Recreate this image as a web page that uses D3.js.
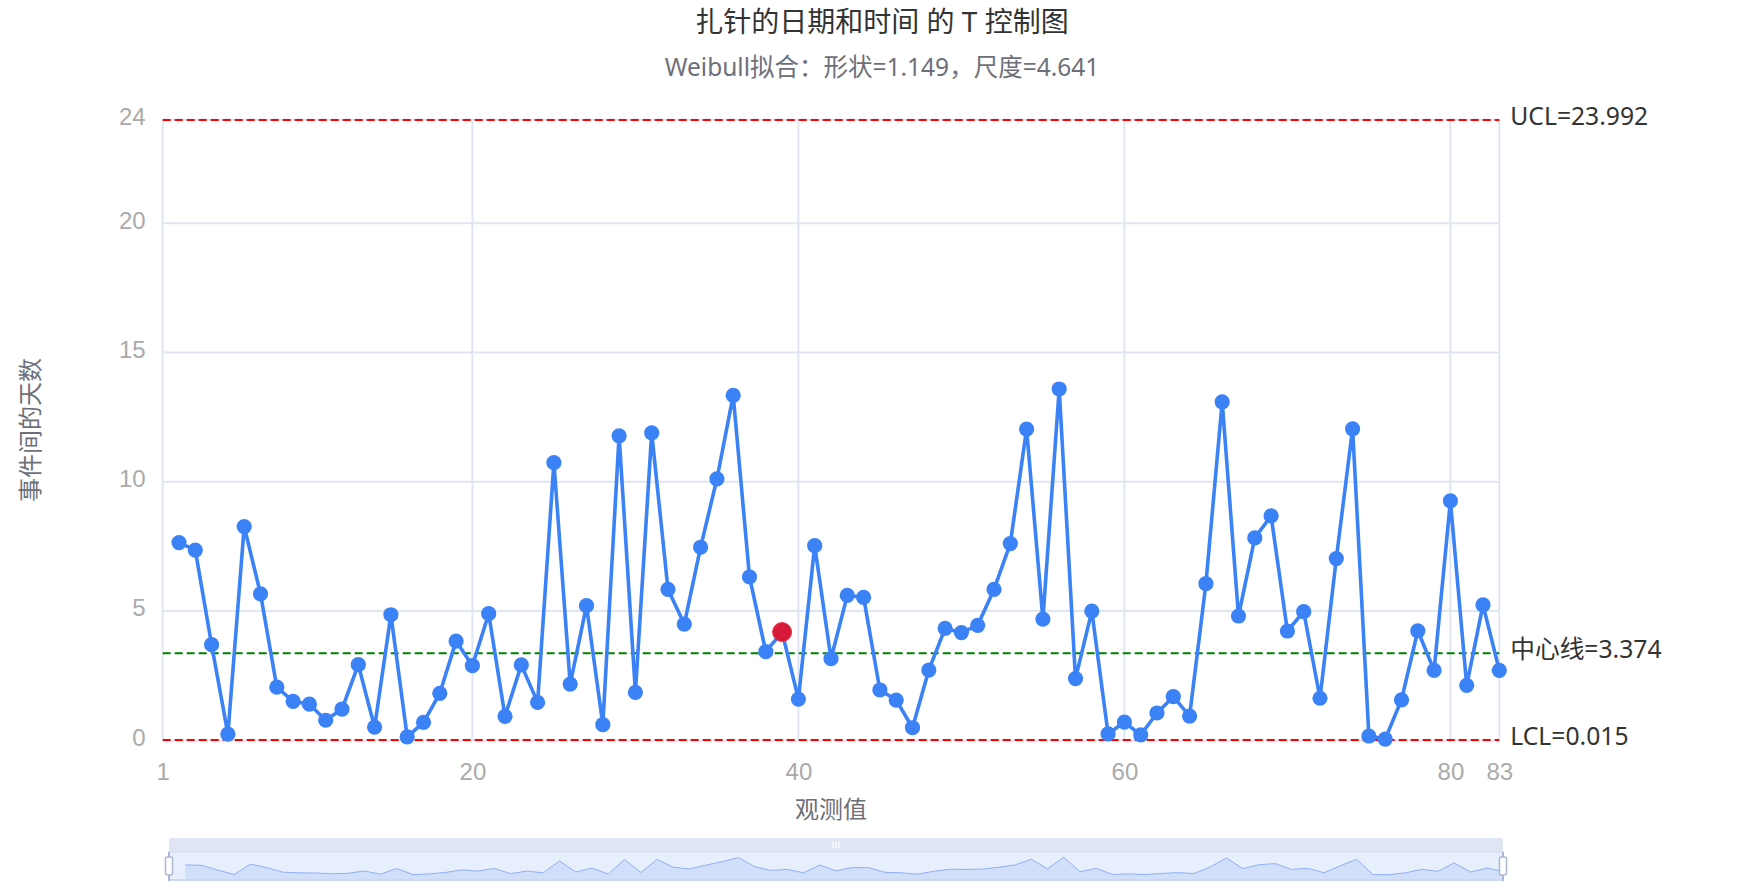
<!DOCTYPE html>
<html><head><meta charset="utf-8">
<script src="https://cdn.jsdelivr.net/npm/d3@7/dist/d3.min.js"></script>
<style>
html,body{margin:0;padding:0;background:#fff;}
svg{display:block;font-family:"Noto Sans","Noto Sans CJK SC",sans-serif;}
</style></head><body>
<svg id="c" width="1764" height="888"></svg>
<script>
// ---------- data ----------
const titleText = "扎针的日期和时间 的 T 控制图";
const subtitleText = "Weibull拟合：形状=1.149，尺度=4.641";
const xAxisName = "观测值";
const yAxisName = "事件间的天数";
const xDomain = [1, 83];
const xTicks = [1, 20, 40, 60, 80, 83];
const yDomain = [0, 24];
const yTicks = [0, 5, 10, 15, 20, 24];
const observations = [2,3,4,5,6,7,8,9,10,11,12,13,14,15,16,17,18,19,20,21,22,23,24,25,26,27,28,29,30,
  31,32,33,34,35,36,37,38,39,40,41,42,43,44,45,46,47,48,49,50,51,52,53,54,55,56,57,58,59,60,
  61,62,63,64,65,66,67,68,69,70,71,72,73,74,75,76,77,78,79,80,81,82,83];
const daysBetween = [7.65,7.36,3.70,0.24,8.27,5.67,2.06,1.51,1.40,0.78,1.21,2.93,0.51,4.86,0.14,0.70,
  1.82,3.84,2.89,4.90,0.93,2.92,1.47,10.74,2.18,5.21,0.61,11.78,1.86,11.89,5.84,4.50,7.47,10.11,
  13.34,6.32,3.43,4.19,1.60,7.53,3.16,5.61,5.53,1.95,1.56,0.49,2.72,4.33,4.17,4.45,5.84,7.61,12.04,
  4.69,13.59,2.39,5.00,0.25,0.71,0.21,1.06,1.69,0.94,6.06,13.09,4.81,7.83,8.68,4.23,4.98,1.63,7.03,
  12.05,0.17,0.05,1.57,4.24,2.71,9.26,2.13,5.24,2.71];
const highlightedObs = [39];
const limitNames = ["UCL", "中心线", "LCL"];
const limitValues = [23.992, 3.374, 0.015];
const limitColors = ["#ff0000", "#008000", "#ff0000"];

// ---------- layout ----------
const W = 1764, H = 888;
const plot = {left: 162.7, right: 1499.3, top: 119.8, bottom: 740.4};
const slider = {left: 169, right: 1503, barTop: 838, top: 852, bottom: 880};

const svg = d3.select("#c");
const x = d3.scaleLinear().domain(xDomain).range([plot.left, plot.right]);
const y = d3.scaleLinear().domain(yDomain).range([plot.bottom, plot.top]);
const pts = observations.map((o, i) => ({o, v: daysBetween[i]}));

// titles
svg.append("text").attr("x", W/2).attr("y", 21).attr("text-anchor","middle")
  .attr("dominant-baseline","central").attr("font-size", 28).attr("fill","#333").text(titleText);
svg.append("text").attr("x", W/2).attr("y", 66).attr("text-anchor","middle")
  .attr("dominant-baseline","central").attr("font-size", 24.5).attr("fill","#6e7079").text(subtitleText);

// grid
const gridColor = "#e0e6f1";
svg.append("g").selectAll("line").data(yTicks).join("line")
  .attr("x1", plot.left).attr("x2", plot.right).attr("y1", d=>y(d)).attr("y2", d=>y(d))
  .attr("stroke", gridColor).attr("stroke-width", 2);
svg.append("g").selectAll("line").data(xTicks).join("line")
  .attr("x1", d=>x(d)).attr("x2", d=>x(d)).attr("y1", plot.top).attr("y2", plot.bottom)
  .attr("stroke", gridColor).attr("stroke-width", 2);

// axes (labels only)
const yAxis = d3.axisLeft(y).tickValues(yTicks).tickSize(0).tickPadding(17).tickFormat(d3.format("d"));
const gy = svg.append("g").attr("transform", `translate(${plot.left},0)`).call(yAxis);
gy.select(".domain").remove();
gy.selectAll("text").attr("font-size", 24).attr("fill", "#aaa").attr("font-family", null).attr("dy", "0.2em");

const xAxis = d3.axisBottom(x).tickValues(xTicks).tickSize(0).tickPadding(23).tickFormat(d3.format("d"));
const gx = svg.append("g").attr("transform", `translate(0,${plot.bottom})`).call(xAxis);
gx.select(".domain").remove();
gx.selectAll("text").attr("font-size", 24).attr("fill", "#aaa").attr("font-family", null).attr("dy", "0.71em");

// axis names
svg.append("text").attr("x", (plot.left+plot.right)/2).attr("y", 808).attr("text-anchor","middle")
  .attr("dominant-baseline","central").attr("font-size", 24).attr("fill","#6e7079").text(xAxisName);
svg.append("text").attr("transform", `translate(29,${(plot.top+plot.bottom)/2}) rotate(-90)`)
  .attr("text-anchor","middle").attr("dominant-baseline","central")
  .attr("font-size", 24).attr("fill","#6e7079").text(yAxisName);

// limit lines
const lim = svg.append("g");
limitValues.forEach((v, i) => {
  lim.append("line").attr("x1", plot.left).attr("x2", plot.right).attr("y1", y(v)).attr("y2", y(v))
    .attr("stroke", limitColors[i]).attr("stroke-width", 2).attr("stroke-dasharray", "8,4");
  lim.append("text").attr("x", plot.right + 11).attr("y", y(v) - 4.5).attr("dominant-baseline","central")
    .attr("font-size", 24.7).attr("fill", "#333").text(`${limitNames[i]}=${v.toFixed(3)}`);
});

// series
const line = d3.line().x(d=>x(d.o)).y(d=>y(d.v));
svg.append("path").datum(pts).attr("d", line).attr("fill","none")
  .attr("stroke","#3b82f6").attr("stroke-width",3.6).attr("stroke-linejoin","round");
svg.append("g").selectAll("circle").data(pts.filter(d=>!highlightedObs.includes(d.o))).join("circle")
  .attr("cx", d=>x(d.o)).attr("cy", d=>y(d.v)).attr("r", 7.6).attr("fill","#3b82f6");
svg.append("g").selectAll("circle").data(pts.filter(d=>highlightedObs.includes(d.o))).join("circle")
  .attr("cx", d=>x(d.o)).attr("cy", d=>y(d.v)).attr("r", 9.5).attr("fill","#d7193a")
  .attr("stroke","#e8384f").attr("stroke-width",1);

// ---------- dataZoom slider ----------
const sz = svg.append("g");
const sx = d3.scaleLinear().domain(xDomain).range([slider.left, slider.right]);
const ext = d3.extent(daysBetween);
const off = (ext[1]-ext[0])*0.3;
const sy = d3.scaleLinear().domain([ext[0]-off, ext[1]+off]).range([slider.bottom, slider.top]);
// move bar
sz.append("path").attr("d", `M${slider.left},${slider.top} V${slider.barTop+3} Q${slider.left},${slider.barTop} ${slider.left+3},${slider.barTop} H${slider.right-3} Q${slider.right},${slider.barTop} ${slider.right},${slider.barTop+3} V${slider.top} Z`)
  .attr("fill", "#dfe5f2");
// grip
[-3,0,3].forEach(d => sz.append("line").attr("x1", (slider.left+slider.right)/2 + d).attr("x2", (slider.left+slider.right)/2 + d)
  .attr("y1", slider.barTop+4).attr("y2", slider.barTop+10).attr("stroke","#fff").attr("stroke-width",1.2));
// background + filler
sz.append("rect").attr("x", slider.left).attr("y", slider.top).attr("width", slider.right-slider.left)
  .attr("height", slider.bottom-slider.top).attr("fill","#e7effd").attr("stroke","#d2dbee").attr("stroke-width",1);
// data shadow
const area = d3.area().x(d=>sx(d.o)).y0(slider.bottom).y1(d=>sy(d.v));
sz.append("path").datum(pts).attr("d", area).attr("fill","#8fb0f7").attr("fill-opacity",0.25);
sz.append("path").datum(pts).attr("d", d3.line().x(d=>sx(d.o)).y(d=>sy(d.v))).attr("fill","none")
  .attr("stroke","#8fb0f7").attr("stroke-width",1);
sz.append("line").attr("x1", slider.left).attr("x2", slider.right).attr("y1", slider.bottom).attr("y2", slider.bottom)
  .attr("stroke","#cfd7e8").attr("stroke-width",2);
// handles
[slider.left, slider.right].forEach(hx => {
  sz.append("line").attr("x1", hx).attr("x2", hx).attr("y1", slider.top).attr("y2", slider.bottom+1)
    .attr("stroke","#acb8d1").attr("stroke-width",2);
  sz.append("rect").attr("x", hx-3.5).attr("y", 857).attr("width", 7).attr("height", 18).attr("rx", 2)
    .attr("fill","#fff").attr("stroke","#acb8d1").attr("stroke-width",1.5);
});
</script></body></html>
